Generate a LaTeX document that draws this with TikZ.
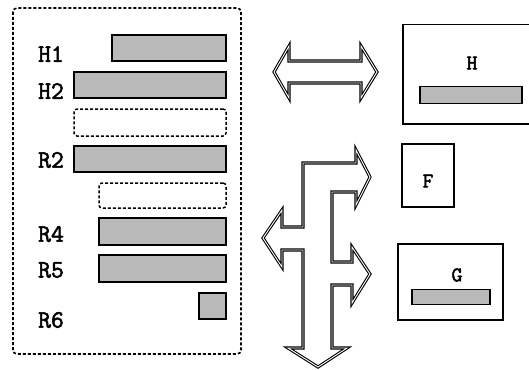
\documentclass[tikz,border=0pt]{standalone}
\usepackage{fontspec}
\newfontfamily\courb[FakeBold=2.2]{Latin Modern Mono}
\begin{document}
\begin{tikzpicture}[x=1pt,y=-1pt,
  bar/.style={draw=black,line width=1.6pt,fill=gray!55},
  ghost/.style={draw=black,line width=1.5pt,dash pattern=on 3pt off 2pt,rounded corners=3pt},
  lbl/.style={font=\courb\fontsize{25}{25}\selectfont,anchor=center,inner sep=0pt},
  boxlbl/.style={font=\courb\fontsize{21}{21}\selectfont,anchor=center,inner sep=0pt},
  frame/.style={draw=black,line width=1.5pt},
  fat/.style={draw=black,line width=1.1pt,double=white,double distance=0.9pt,line join=miter}]
\useasboundingbox (0,0) rectangle (529,369);
\fill[white] (0,0) rectangle (529,369);
% left container
\draw[line width=1.6pt,dash pattern=on 3pt off 2pt,rounded corners=4pt] (13,8) rectangle (241,354);
\node[bar,minimum width=114pt,minimum height=26pt,inner sep=0pt] (h1bar) at (169,48) {};
\node[bar,minimum width=152pt,minimum height=26pt,inner sep=0pt] (h2bar) at (150,85) {};
\node[ghost,minimum width=152pt,minimum height=27pt,inner sep=0pt] (gap1) at (150,122.5) {};
\node[bar,minimum width=152pt,minimum height=26pt,inner sep=0pt] (r2bar) at (150,159) {};
\node[ghost,minimum width=127pt,minimum height=25pt,inner sep=0pt] (gap2) at (162.5,195.5) {};
\node[bar,minimum width=127pt,minimum height=27pt,inner sep=0pt] (r4bar) at (162.5,231.5) {};
\node[bar,minimum width=127pt,minimum height=27pt,inner sep=0pt] (r5bar) at (162.5,268.5) {};
\node[bar,minimum width=27pt,minimum height=26pt,inner sep=0pt] (r6bar) at (212.5,306) {};
\node[lbl] (h1) at (51,54) {H1};
\node[lbl] (h2) at (51,91) {H2};
\node[lbl] (r2) at (51,160) {R2};
\node[lbl] (r4) at (51,234) {R4};
\node[lbl] (r5) at (51,270) {R5};
\node[lbl] (r6) at (51,320) {R6};
% right boxes
\node[frame,minimum width=130pt,minimum height=99pt,inner sep=0pt,anchor=north west] (hbox) at (402,24) {};
\node[boxlbl] (hl) at (472,63) {H};
\node[bar,minimum width=102pt,minimum height=17pt,inner sep=0pt] (hbar) at (471,95) {};
\node[frame,minimum width=52pt,minimum height=63pt,inner sep=0pt] (fbox) at (428,175.5) {};
\node[boxlbl] (fl) at (428,181) {F};
\node[frame,minimum width=105pt,minimum height=76pt,inner sep=0pt] (gbox) at (450.5,282) {};
\node[boxlbl] (gl) at (457,275) {G};
\node[bar,minimum width=78pt,minimum height=15pt,inner sep=0pt] (gbar) at (451,297) {};
% double arrow
\draw[fat] (274,72) -- (289,46) -- (289,61) -- (361,61) -- (361,46) -- (377,72)
  -- (361,98) -- (361,83) -- (289,83) -- (289,98) -- cycle;
% branching arrow
\draw[fat] (303,163) -- (356,163) -- (356,150) -- (370,177) -- (356,205) -- (356,192)
  -- (332,192) -- (332,262) -- (352,262) -- (352,247) -- (370,274) -- (352,303)
  -- (352,285) -- (332,285) -- (332,348) -- (347,348) -- (318,367) -- (288,348)
  -- (303,348) -- (303,250) -- (282,250) -- (282,267) -- (263,238) -- (282,210)
  -- (282,227) -- (303,227) -- cycle;
\end{tikzpicture}
\end{document}
